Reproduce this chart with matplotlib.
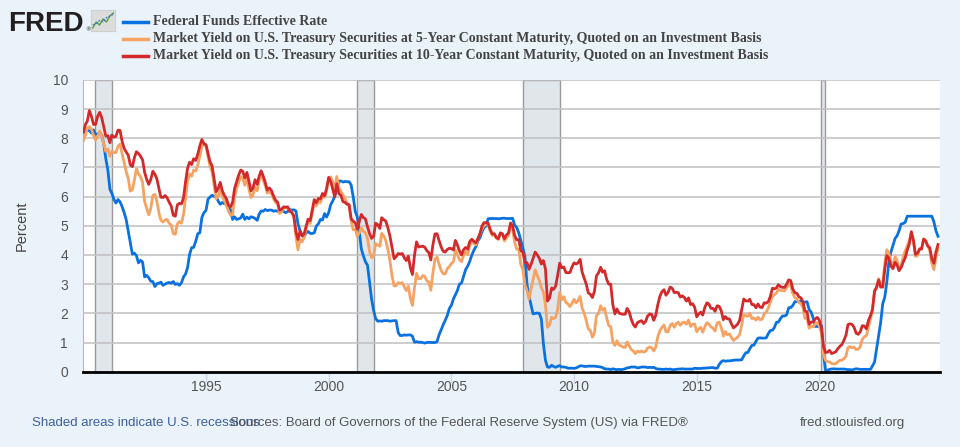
import pandas as pd
import matplotlib.pyplot as plt
import matplotlib.dates as mdates
from matplotlib.lines import Line2D

# monthly values, Jan 1990 .. Nov 2024 (one row per year)
fed_funds = [
    8.23, 8.24, 8.28, 8.26, 8.18, 8.29, 8.15, 8.13, 8.20, 8.11, 7.81, 7.31,
    6.91, 6.25, 6.12, 5.91, 5.78, 5.90, 5.82, 5.66, 5.45, 5.21, 4.81, 4.43,
    4.03, 4.06, 3.98, 3.73, 3.82, 3.76, 3.25, 3.30, 3.22, 3.10, 3.09, 2.92,
    3.02, 3.03, 3.07, 2.96, 3.00, 3.04, 3.06, 3.03, 3.09, 2.99, 3.02, 2.96,
    3.05, 3.25, 3.34, 3.56, 4.01, 4.25, 4.26, 4.47, 4.73, 4.76, 5.29, 5.45,
    5.53, 5.92, 5.98, 6.05, 6.01, 6.00, 5.85, 5.74, 5.80, 5.76, 5.80, 5.60,
    5.56, 5.22, 5.31, 5.22, 5.24, 5.27, 5.40, 5.22, 5.30, 5.24, 5.31, 5.29,
    5.25, 5.19, 5.39, 5.51, 5.50, 5.56, 5.52, 5.54, 5.54, 5.50, 5.52, 5.50,
    5.56, 5.51, 5.49, 5.45, 5.49, 5.56, 5.54, 5.55, 5.51, 5.07, 4.83, 4.68,
    4.63, 4.76, 4.81, 4.74, 4.74, 4.76, 4.99, 5.07, 5.22, 5.20, 5.42, 5.30,
    5.45, 5.73, 5.85, 6.02, 6.27, 6.53, 6.54, 6.50, 6.52, 6.51, 6.51, 6.40,
    5.98, 5.49, 5.31, 4.80, 4.21, 3.97, 3.77, 3.65, 3.07, 2.49, 2.09, 1.82,
    1.73, 1.74, 1.73, 1.75, 1.75, 1.75, 1.73, 1.74, 1.75, 1.75, 1.34, 1.24,
    1.24, 1.26, 1.25, 1.26, 1.26, 1.22, 1.01, 1.03, 1.01, 1.01, 1.00, 0.98,
    1.00, 1.01, 1.00, 1.00, 1.00, 1.03, 1.26, 1.43, 1.61, 1.76, 1.93, 2.16,
    2.28, 2.50, 2.63, 2.79, 3.00, 3.04, 3.26, 3.50, 3.62, 3.78, 4.00, 4.16,
    4.29, 4.49, 4.59, 4.79, 4.94, 4.99, 5.24, 5.25, 5.25, 5.25, 5.25, 5.24,
    5.25, 5.26, 5.26, 5.25, 5.25, 5.25, 5.26, 5.02, 4.94, 4.76, 4.49, 4.24,
    3.94, 2.98, 2.61, 2.28, 1.98, 2.00, 2.01, 2.00, 1.81, 0.97, 0.39, 0.16,
    0.15, 0.22, 0.18, 0.15, 0.18, 0.21, 0.16, 0.16, 0.15, 0.12, 0.12, 0.12,
    0.11, 0.13, 0.16, 0.20, 0.20, 0.18, 0.18, 0.19, 0.19, 0.19, 0.19, 0.18,
    0.17, 0.16, 0.14, 0.10, 0.09, 0.09, 0.07, 0.10, 0.08, 0.07, 0.08, 0.07,
    0.08, 0.10, 0.13, 0.14, 0.16, 0.16, 0.16, 0.13, 0.14, 0.16, 0.16, 0.16,
    0.14, 0.15, 0.14, 0.15, 0.11, 0.09, 0.09, 0.08, 0.08, 0.09, 0.08, 0.09,
    0.07, 0.07, 0.08, 0.09, 0.09, 0.10, 0.09, 0.09, 0.09, 0.09, 0.09, 0.12,
    0.11, 0.11, 0.11, 0.12, 0.12, 0.13, 0.13, 0.14, 0.14, 0.12, 0.12, 0.24,
    0.34, 0.38, 0.36, 0.37, 0.37, 0.38, 0.39, 0.40, 0.40, 0.40, 0.41, 0.54,
    0.65, 0.66, 0.79, 0.90, 0.91, 1.04, 1.15, 1.16, 1.15, 1.15, 1.16, 1.30,
    1.41, 1.42, 1.51, 1.69, 1.70, 1.82, 1.91, 1.91, 1.95, 2.19, 2.20, 2.27,
    2.40, 2.40, 2.41, 2.42, 2.39, 2.38, 2.40, 2.13, 2.04, 1.83, 1.55, 1.55,
    1.55, 1.58, 0.65, 0.05, 0.05, 0.08, 0.09, 0.10, 0.09, 0.09, 0.09, 0.09,
    0.09, 0.08, 0.07, 0.07, 0.06, 0.08, 0.10, 0.09, 0.08, 0.08, 0.08, 0.08,
    0.08, 0.08, 0.20, 0.33, 0.77, 1.21, 1.68, 2.33, 2.56, 3.08, 3.78, 4.10,
    4.33, 4.57, 4.65, 4.83, 5.06, 5.08, 5.12, 5.33, 5.33, 5.33, 5.33, 5.33,
    5.33, 5.33, 5.33, 5.33, 5.33, 5.33, 5.33, 5.33, 5.13, 4.83, 4.64,
]

yield_5y = [
    7.92, 8.11, 8.35, 8.40, 8.32, 8.10, 7.94, 8.06, 8.25, 8.10, 7.80, 7.55,
    7.64, 7.38, 7.56, 7.51, 7.51, 7.73, 7.80, 7.47, 7.17, 6.85, 6.62, 6.19,
    6.24, 6.58, 6.95, 6.78, 6.69, 6.48, 5.84, 5.60, 5.38, 5.60, 6.04, 6.08,
    5.83, 5.43, 5.19, 5.13, 5.20, 5.22, 5.09, 5.03, 4.73, 4.71, 5.06, 5.15,
    5.09, 5.40, 5.94, 6.52, 6.78, 6.70, 6.91, 6.88, 7.08, 7.40, 7.72, 7.78,
    7.76, 7.37, 7.05, 6.86, 6.41, 5.93, 6.01, 6.24, 6.00, 5.86, 5.69, 5.51,
    5.36, 5.38, 5.97, 6.30, 6.48, 6.69, 6.64, 6.39, 6.60, 6.27, 5.97, 6.07,
    6.33, 6.20, 6.54, 6.76, 6.57, 6.38, 6.12, 6.16, 6.11, 5.93, 5.80, 5.77,
    5.42, 5.49, 5.61, 5.61, 5.63, 5.52, 5.46, 5.27, 4.62, 4.18, 4.54, 4.45,
    4.60, 4.91, 5.14, 5.08, 5.44, 5.81, 5.68, 5.84, 5.80, 6.03, 5.97, 6.19,
    6.58, 6.68, 6.50, 6.26, 6.69, 6.30, 6.18, 6.06, 5.93, 5.78, 5.70, 5.17,
    4.86, 4.89, 4.64, 4.76, 4.93, 4.81, 4.76, 4.57, 4.12, 3.91, 3.97, 4.39,
    4.34, 4.30, 4.74, 4.65, 4.49, 4.19, 3.81, 3.29, 2.94, 2.95, 3.05, 3.03,
    3.05, 2.90, 2.78, 2.93, 2.52, 2.27, 2.87, 3.37, 3.18, 3.19, 3.29, 3.27,
    3.12, 3.07, 2.79, 3.39, 3.85, 3.93, 3.69, 3.47, 3.36, 3.35, 3.53, 3.60,
    3.71, 3.77, 4.17, 4.00, 3.85, 3.77, 3.98, 4.12, 4.01, 4.33, 4.45, 4.39,
    4.35, 4.57, 4.72, 4.90, 5.00, 5.07, 5.04, 4.82, 4.67, 4.69, 4.58, 4.53,
    4.75, 4.71, 4.48, 4.59, 4.67, 5.03, 4.88, 4.43, 4.20, 4.20, 3.67, 3.49,
    2.98, 2.78, 2.48, 2.84, 3.15, 3.49, 3.30, 3.14, 2.88, 2.73, 2.29, 1.52,
    1.60, 1.87, 1.82, 1.86, 2.13, 2.71, 2.46, 2.57, 2.37, 2.33, 2.23, 2.34,
    2.48, 2.36, 2.43, 2.58, 2.18, 2.00, 1.76, 1.47, 1.41, 1.18, 1.35, 1.93,
    1.99, 2.26, 2.11, 2.17, 1.84, 1.58, 1.54, 1.02, 0.90, 1.06, 0.91, 0.89,
    0.84, 0.83, 1.02, 0.89, 0.76, 0.71, 0.62, 0.71, 0.67, 0.71, 0.67, 0.70,
    0.81, 0.85, 0.82, 0.71, 0.84, 1.20, 1.40, 1.52, 1.60, 1.37, 1.37, 1.58,
    1.65, 1.52, 1.64, 1.70, 1.59, 1.68, 1.70, 1.63, 1.77, 1.55, 1.62, 1.64,
    1.37, 1.47, 1.52, 1.35, 1.54, 1.68, 1.63, 1.54, 1.49, 1.39, 1.67, 1.70,
    1.52, 1.22, 1.38, 1.26, 1.30, 1.17, 1.07, 1.13, 1.18, 1.27, 1.60, 1.96,
    1.92, 1.90, 2.01, 1.82, 1.84, 1.77, 1.87, 1.78, 1.80, 1.98, 2.05, 2.18,
    2.38, 2.60, 2.63, 2.70, 2.82, 2.78, 2.78, 2.77, 2.89, 3.00, 2.95, 2.68,
    2.54, 2.49, 2.37, 2.33, 2.19, 1.83, 1.83, 1.49, 1.57, 1.53, 1.64, 1.68,
    1.56, 1.32, 0.59, 0.39, 0.34, 0.34, 0.28, 0.27, 0.27, 0.34, 0.39, 0.39,
    0.45, 0.54, 0.82, 0.86, 0.82, 0.84, 0.76, 0.77, 0.86, 1.11, 1.20, 1.23,
    1.54, 1.81, 2.11, 2.78, 2.87, 3.19, 2.96, 3.03, 3.70, 4.18, 4.06, 3.76,
    3.64, 3.94, 3.82, 3.54, 3.59, 3.95, 4.14, 4.31, 4.49, 4.77, 4.49, 3.95,
    3.98, 4.19, 4.20, 4.56, 4.50, 4.32, 4.16, 3.71, 3.50, 3.91, 4.23,
]

yield_10y = [
    8.21, 8.47, 8.59, 8.95, 8.76, 8.48, 8.47, 8.75, 8.89, 8.72, 8.39, 8.08,
    8.09, 7.85, 8.11, 8.04, 8.07, 8.28, 8.27, 7.90, 7.65, 7.53, 7.42, 7.09,
    7.03, 7.34, 7.54, 7.48, 7.39, 7.26, 6.84, 6.59, 6.42, 6.59, 6.87, 6.77,
    6.60, 6.26, 5.98, 5.97, 6.04, 5.96, 5.81, 5.68, 5.36, 5.33, 5.72, 5.77,
    5.75, 5.97, 6.48, 6.97, 7.18, 7.10, 7.30, 7.24, 7.46, 7.74, 7.96, 7.81,
    7.78, 7.47, 7.20, 7.06, 6.63, 6.17, 6.28, 6.49, 6.20, 6.04, 5.93, 5.71,
    5.65, 5.81, 6.27, 6.51, 6.74, 6.91, 6.87, 6.64, 6.83, 6.53, 6.20, 6.30,
    6.58, 6.42, 6.69, 6.89, 6.71, 6.49, 6.22, 6.30, 6.21, 6.03, 5.88, 5.81,
    5.54, 5.57, 5.65, 5.64, 5.65, 5.50, 5.46, 5.34, 4.81, 4.53, 4.83, 4.65,
    4.72, 5.00, 5.23, 5.18, 5.54, 5.90, 5.79, 5.94, 5.92, 6.11, 6.03, 6.28,
    6.66, 6.52, 6.26, 5.99, 6.44, 6.10, 6.05, 5.83, 5.80, 5.74, 5.72, 5.24,
    5.16, 5.10, 4.89, 5.14, 5.39, 5.28, 5.24, 4.97, 4.73, 4.57, 4.65, 5.09,
    5.04, 4.91, 5.28, 5.21, 5.16, 4.93, 4.65, 4.26, 3.87, 3.94, 4.05, 4.03,
    4.05, 3.90, 3.81, 3.96, 3.57, 3.33, 3.98, 4.45, 4.27, 4.29, 4.30, 4.27,
    4.15, 4.08, 3.83, 4.35, 4.72, 4.73, 4.50, 4.28, 4.13, 4.10, 4.19, 4.23,
    4.22, 4.17, 4.50, 4.34, 4.14, 4.00, 4.18, 4.26, 4.20, 4.46, 4.54, 4.47,
    4.42, 4.57, 4.72, 4.99, 5.11, 5.11, 5.09, 4.88, 4.72, 4.73, 4.60, 4.56,
    4.76, 4.72, 4.56, 4.69, 4.75, 5.10, 5.00, 4.67, 4.52, 4.53, 4.15, 4.10,
    3.74, 3.74, 3.51, 3.68, 3.88, 4.10, 4.01, 3.89, 3.69, 3.81, 3.53, 2.42,
    2.52, 2.87, 2.82, 2.93, 3.29, 3.72, 3.56, 3.59, 3.40, 3.39, 3.40, 3.59,
    3.73, 3.69, 3.73, 3.85, 3.42, 3.20, 3.01, 2.70, 2.65, 2.54, 2.76, 3.29,
    3.39, 3.58, 3.41, 3.46, 3.17, 3.00, 3.00, 2.30, 1.98, 2.15, 2.01, 1.98,
    1.97, 1.97, 2.17, 2.05, 1.80, 1.62, 1.53, 1.68, 1.72, 1.75, 1.65, 1.72,
    1.91, 1.98, 1.96, 1.76, 1.93, 2.30, 2.58, 2.74, 2.81, 2.62, 2.72, 2.90,
    2.86, 2.71, 2.72, 2.71, 2.56, 2.60, 2.54, 2.42, 2.53, 2.30, 2.33, 2.21,
    1.88, 1.98, 2.04, 1.94, 2.20, 2.36, 2.32, 2.17, 2.17, 2.07, 2.26, 2.24,
    2.09, 1.78, 1.89, 1.81, 1.81, 1.64, 1.50, 1.56, 1.63, 1.76, 2.14, 2.49,
    2.43, 2.42, 2.48, 2.30, 2.30, 2.19, 2.32, 2.21, 2.20, 2.36, 2.35, 2.40,
    2.58, 2.86, 2.84, 2.87, 2.98, 2.91, 2.89, 2.89, 3.00, 3.15, 3.12, 2.83,
    2.71, 2.68, 2.57, 2.53, 2.40, 2.07, 2.06, 1.63, 1.70, 1.71, 1.81, 1.86,
    1.76, 1.50, 0.87, 0.66, 0.67, 0.73, 0.62, 0.65, 0.68, 0.79, 0.87, 0.93,
    1.08, 1.26, 1.61, 1.64, 1.62, 1.52, 1.32, 1.28, 1.37, 1.58, 1.56, 1.47,
    1.76, 1.93, 2.13, 2.75, 2.90, 3.14, 2.90, 2.90, 3.52, 3.98, 3.89, 3.62,
    3.53, 3.75, 3.66, 3.46, 3.57, 3.75, 3.90, 4.17, 4.38, 4.80, 4.50, 4.02,
    4.06, 4.21, 4.21, 4.54, 4.48, 4.31, 4.25, 3.87, 3.72, 4.10, 4.36,
]

recessions = [("1990-07-01", "1991-03-01"), ("2001-03-01", "2001-11-01"),
              ("2007-12-01", "2009-06-01"), ("2020-02-01", "2020-04-01")]

tick_years = [1995, 2000, 2005, 2010, 2015, 2020]

series_names = ["Federal Funds Effective Rate",
                "Market Yield on U.S. Treasury Securities at 5-Year Constant Maturity, Quoted on an Investment Basis",
                "Market Yield on U.S. Treasury Securities at 10-Year Constant Maturity, Quoted on an Investment Basis"]
colors = ["#0a72e0", "#f5a262", "#d3292a"]

dates = pd.date_range("1990-01-01", periods=len(fed_funds), freq="MS")

bg = "#eaf2fa"
fig = plt.figure(figsize=(9.6, 4.47), dpi=100, facecolor=bg)
ax = fig.add_axes([0.0868, 0.1685, 0.8924, 0.6526])
ax.set_facecolor("white")

for start, end in recessions:
    ax.axvspan(pd.Timestamp(start), pd.Timestamp(end), facecolor="#e1e6eb",
               edgecolor="#9a9a9a", lw=1.0, zorder=1)

for vals, c in zip([fed_funds, yield_5y, yield_10y], colors):
    ax.plot(dates, vals, color=c, lw=2.0, zorder=3, solid_joinstyle="round")

ax.set_ylim(0, 10)
ax.set_yticks(range(0, 11))
ax.set_xlim(pd.Timestamp("1990-01-01"), pd.Timestamp("2024-12-01"))
ax.set_xticks([pd.Timestamp(f"{y}-01-01") for y in tick_years])
ax.xaxis.set_major_formatter(mdates.DateFormatter("%Y"))
ax.grid(axis="y", color="#c0c0c0", lw=1.1, zorder=2)
ax.set_axisbelow(False)

for s in ["top", "right"]:
    ax.spines[s].set_visible(False)
ax.spines["left"].set_color("#b8b8b8")
ax.spines["left"].set_linewidth(0.8)
ax.spines["bottom"].set_color("black")
ax.spines["bottom"].set_linewidth(2.0)
ax.spines["bottom"].set_zorder(5)

ax.tick_params(axis="y", length=0, pad=11, labelsize=10, labelcolor="#555555")
ax.tick_params(axis="x", length=7, width=1, color="#ccd6eb", pad=-1,
               labelsize=10, labelcolor="#555555")
for lab in ax.get_yticklabels() + ax.get_xticklabels():
    lab.set_fontfamily("Liberation Sans")
ax.set_ylabel("Percent", fontsize=10.5, color="#444444", family="Liberation Sans", labelpad=17)

# FRED logo
fig.text(8 / 960, 1 - 31 / 447, "FRED", fontsize=20, fontweight="bold",
         family="Liberation Sans", color="#231f20", va="baseline")
fig.text(85 / 960, 1 - 31 / 447, "\u00ae", fontsize=4, color="#231f20", va="baseline")
icon = fig.add_axes([91 / 960, 1 - 31 / 447, 24 / 960, 21 / 447])
icon.set_facecolor("#dcdcdc")
icon.set_xticks([])
icon.set_yticks([])
for s in icon.spines.values():
    s.set_color("#cfcfcf")
icon.plot([0, 1, 2, 3, 4, 5, 6], [1, 3, 2, 4, 3, 5, 6], color="#5a9e3a", lw=1.0)
icon.plot([0, 1, 2, 3, 4, 5, 6], [2, 2.5, 3.5, 3, 4.5, 5, 5.5], color="#3d7ac0", lw=0.8, ls=(0, (2, 1)))
icon.set_xlim(-0.5, 6.5)
icon.set_ylim(0, 7)

# legend
for i, (name, c) in enumerate(zip(series_names, colors)):
    y = 1 - (21.5 + i * 17) / 447
    fig.add_artist(Line2D([123 / 960, 148 / 960], [y, y], color=c, lw=2.5,
                          transform=fig.transFigure))
    fig.text(153 / 960, y, name, fontsize=10, fontweight="bold",
             family="Liberation Serif", color="#444444", va="center")

# footer (the source line overlaps the recession note, as on the original)
fig.text(32 / 960, 1 - 423 / 447, "Shaded areas indicate U.S. recessions", fontsize=9.5,
         family="Liberation Sans", color="#3d5fa3", va="center")
fig.text(230 / 960, 1 - 423 / 447,
         "Sources: Board of Governors of the Federal Reserve System (US) via FRED\u00ae",
         fontsize=9.5, family="Liberation Sans", color="#555555", va="center")
fig.text(800 / 960, 1 - 423 / 447, "fred.stlouisfed.org", fontsize=9.5,
         family="Liberation Sans", color="#555555", va="center")

fig.savefig("out.png", dpi=100, facecolor=bg)
